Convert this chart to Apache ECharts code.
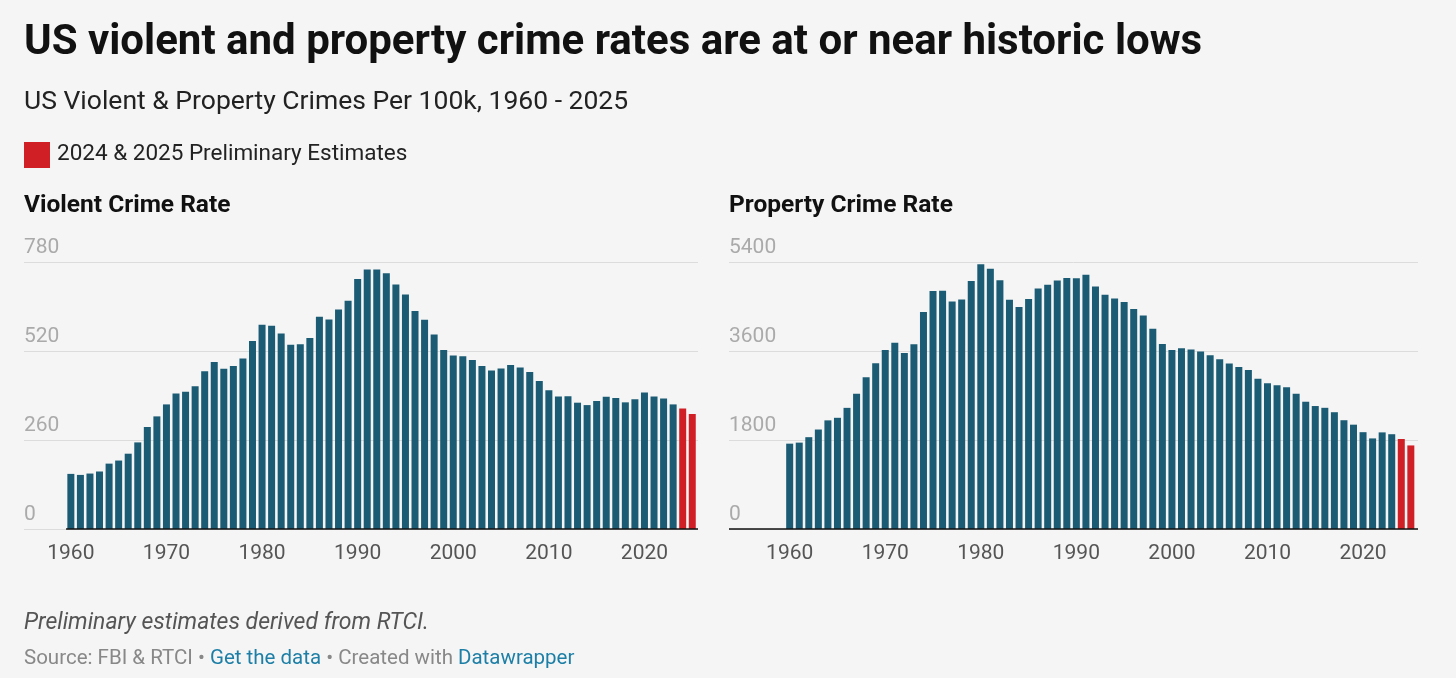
<!DOCTYPE html>
<html>
<head>
<meta charset="utf-8">
<script src="https://cdn.jsdelivr.net/npm/echarts@6/dist/echarts.min.js"></script>
<style>
  html, body { margin: 0; padding: 0; background: #f5f5f5; }
  #main { width: 1456px; height: 678px; }
</style>
</head>
<body>
<div id="main"></div>
<script>
// years 1960 - 2025, last two are preliminary estimates
var years = [];
for (var y = 1960; y <= 2025; y++) years.push(y);

var violent = [161, 158, 162, 168, 191, 200, 220, 253, 298, 329,
  364, 396, 401, 417, 461, 488, 468, 476, 498, 549,
  597, 594, 571, 538, 540, 558, 620, 612, 641, 667,
  730, 758, 758, 747, 714, 685, 637, 611, 568, 523,
  507, 505, 494, 476, 463, 469, 479, 472, 459, 432,
  405, 387, 388, 369, 362, 374, 386, 383, 370, 379,
  399, 387, 381, 364, 352, 336];

var property = [1726, 1747, 1857, 2012, 2197, 2249, 2450, 2736, 3071, 3351,
  3621, 3768, 3561, 3737, 4389, 4811, 4820, 4601, 4642, 5017,
  5353, 5264, 5032, 4637, 4492, 4651, 4863, 4940, 5027, 5078,
  5073, 5140, 4903, 4740, 4660, 4591, 4451, 4316, 4052, 3744,
  3618, 3658, 3631, 3591, 3514, 3432, 3346, 3277, 3215, 3041,
  2946, 2905, 2868, 2734, 2574, 2487, 2451, 2362, 2200, 2110,
  1958, 1832, 1954, 1917, 1820, 1690];

var yearTicks = [1960, 1970, 1980, 1990, 2000, 2010, 2020];
var violentTicks = [0, 260, 520, 780];
var propertyTicks = [0, 1800, 3600, 5400];
var estimateYears = [2024, 2025];

var BLUE = '#1b5c74', RED = '#d01f25';

function toData(vals) {
  return years.map(function (yr, i) {
    return {
      value: [yr, vals[i]],
      itemStyle: { color: estimateYears.indexOf(yr) >= 0 ? RED : BLUE }
    };
  });
}

function xAxisFor(idx, min, max) {
  return {
    gridIndex: idx, type: 'value', min: min, max: max,
    axisLine: { show: false }, axisTick: { show: false }, splitLine: { show: false },
    axisLabel: { customValues: yearTicks, formatter: function (v) { return String(v); },
      color: '#555', fontSize: 21, margin: 14, fontFamily: 'Roboto' }
  };
}
function yAxisFor(idx, ticks) {
  return {
    gridIndex: idx, type: 'value', min: 0, max: ticks[ticks.length - 1],
    interval: ticks[1] - ticks[0],
    axisLine: { show: false }, axisTick: { show: false },
    splitLine: { lineStyle: { color: '#dcdcdc' } },
    axisLabel: { inside: true, verticalAlign: 'bottom', margin: 0, padding: [0, 0, 4, 0],
      formatter: function (v) { return String(v); },
      color: '#aaa', fontSize: 21, fontFamily: 'Roboto' }
  };
}

var chart = echarts.init(document.getElementById('main'));
chart.setOption({
  backgroundColor: '#f5f5f5',
  animation: false,
  textStyle: { fontFamily: 'Roboto' },
  graphic: [
    { type: 'text', left: 24, top: 22, style: { text: 'US violent and property crime rates are at or near historic lows', font: 'bold 42px Roboto', fill: '#111' } },
    { type: 'text', left: 24, top: 89, style: { text: 'US Violent & Property Crimes Per 100k, 1960 - 2025', font: '26.5px Roboto', fill: '#222' } },
    { type: 'rect', left: 24, top: 142, shape: { width: 26, height: 26 }, style: { fill: RED } },
    { type: 'text', left: 57, top: 143, style: { text: '2024 & 2025 Preliminary Estimates', font: '22.5px Roboto', fill: '#222' } },
    { type: 'text', left: 24, top: 193, style: { text: 'Violent Crime Rate', font: 'bold 24.5px Roboto', fill: '#111' } },
    { type: 'text', left: 729, top: 193, style: { text: 'Property Crime Rate', font: 'bold 24.5px Roboto', fill: '#111' } },
    { type: 'text', left: 24, top: 612, style: { text: 'Preliminary estimates derived from RTCI.', font: 'italic 23px Roboto', fill: '#555' } },
    { type: 'text', left: 24, top: 648, style: {
      rich: { g: { fill: '#888', font: '20.5px Roboto' }, b: { fill: '#1d7fa6', font: '20.5px Roboto' } },
      text: '{g|Source: FBI & RTCI • }{b|Get the data}{g| • Created with }{b|Datawrapper}' } }
  ],
  grid: [
    { left: 24, right: 758, top: 262, height: 267 },
    { left: 729, right: 38, top: 262, height: 267 }
  ],
  xAxis: [xAxisFor(0, 1955.1, 2025.6), xAxisFor(1, 1953.65, 2025.75)],
  yAxis: [yAxisFor(0, violentTicks), yAxisFor(1, propertyTicks)],
  series: [
    { type: 'bar', xAxisIndex: 0, yAxisIndex: 0, barWidth: 7, data: toData(violent),
      markLine: { silent: true, symbol: 'none', label: { show: false },
        lineStyle: { color: '#111', width: 1.5, type: 'solid' }, data: [[{ coord: [1959.5, 0] }, { coord: [2025.6, 0] }]] } },
    { type: 'bar', xAxisIndex: 1, yAxisIndex: 1, barWidth: 7, data: toData(property),
      markLine: { silent: true, symbol: 'none', label: { show: false },
        lineStyle: { color: '#111', width: 1.5, type: 'solid' }, data: [[{ coord: [1953.65, 0] }, { coord: [2025.75, 0] }]] } }
  ]
});
</script>
</body>
</html>
